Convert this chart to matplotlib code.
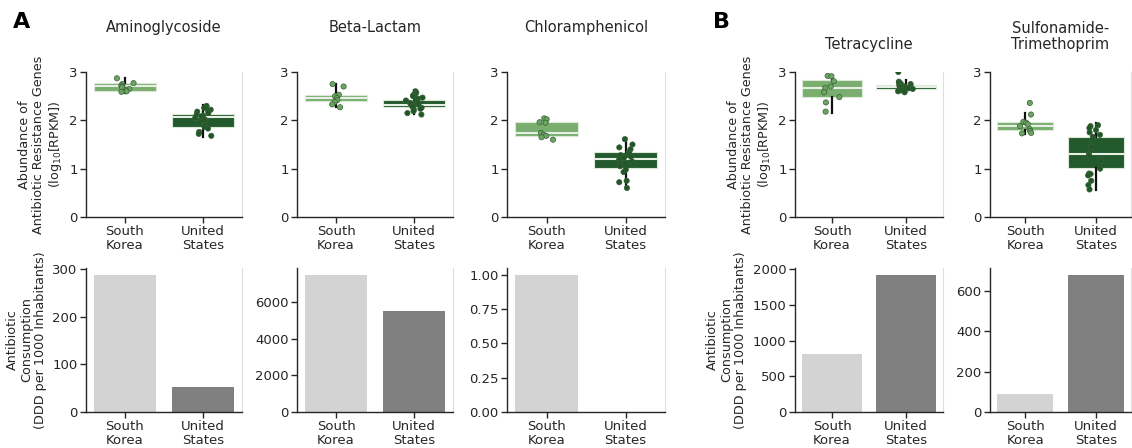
import matplotlib
matplotlib.use("Agg")
import matplotlib.pyplot as plt
import seaborn as sns

COUNTRIES = ["South\nKorea", "United\nStates"]
DRUG_CLASSES = ["Aminoglycoside", "Beta-Lactam", "Chloramphenicol", "Tetracycline", "Sulfonamide-\nTrimethoprim"]

# box summaries: (whislo, q1, median, q3, whishi)
BOX_KOREA = [
    (2.57, 2.61, 2.70, 2.77, 2.88),
    (2.27, 2.40, 2.47, 2.53, 2.75),
    (1.68, 1.68, 1.74, 1.96, 2.05),
    (2.16, 2.49, 2.67, 2.83, 2.94),
    (1.72, 1.80, 1.89, 1.97, 2.15),
]
BOX_US = [
    (1.66, 1.86, 2.07, 2.13, 2.32),
    (2.13, 2.28, 2.32, 2.43, 2.62),
    (0.59, 1.01, 1.21, 1.34, 1.63),
    (2.59, 2.65, 2.68, 2.73, 2.83),
    (0.56, 1.01, 1.30, 1.66, 1.94),
]

# per-sample log10 RPKM values
POINTS_KOREA = [
    [2.87, 2.77, 2.75, 2.72, 2.70, 2.68, 2.65, 2.62, 2.60, 2.59],
    [2.75, 2.70, 2.53, 2.50, 2.46, 2.42, 2.38, 2.33, 2.27],
    [2.04, 2.02, 1.96, 1.95, 1.74, 1.70, 1.68, 1.65, 1.60],
    [2.92, 2.91, 2.81, 2.70, 2.67, 2.58, 2.48, 2.37, 2.18],
    [2.36, 2.12, 1.97, 1.95, 1.92, 1.88, 1.82, 1.78, 1.74, 1.73],
]
POINTS_US = [
    [2.30, 2.26, 2.22, 2.20, 2.18, 2.15, 2.12, 2.10, 2.08, 2.05, 2.02, 2.00, 1.97, 1.94, 1.90, 1.86, 1.83, 1.76, 1.72, 1.68],
    [2.60, 2.57, 2.54, 2.52, 2.50, 2.47, 2.45, 2.43, 2.41, 2.40, 2.38, 2.36, 2.35, 2.33, 2.31, 2.30, 2.28, 2.26, 2.24, 2.22, 2.19, 2.15, 2.12],
    [1.61, 1.50, 1.44, 1.40, 1.35, 1.31, 1.28, 1.25, 1.22, 1.19, 1.15, 1.12, 1.09, 1.05, 0.98, 0.93, 0.75, 0.72, 0.60],
    [3.00, 2.80, 2.78, 2.76, 2.75, 2.73, 2.72, 2.71, 2.70, 2.69, 2.68, 2.67, 2.66, 2.65, 2.64, 2.63, 2.62, 2.60, 2.58],
    [1.90, 1.88, 1.84, 1.80, 1.75, 1.70, 1.66, 1.61, 1.48, 1.45, 1.30, 1.27, 1.20, 1.16, 1.00, 0.90, 0.89, 0.86, 0.75, 0.66, 0.57],
]

# DDD per 1000 inhabitants
CONSUMPTION_KOREA = [288, 7500, 1.0, 810, 90]
CONSUMPTION_US = [53, 5550, 0.0, 1921, 679]

BOTTOM_TICKS = [
    [0, 100, 200, 300],
    [0, 2000, 4000, 6000],
    [0, 0.25, 0.5, 0.75, 1.0],
    [0, 500, 1000, 1500, 2000],
    [0, 200, 400, 600],
]

BOX_COLORS = ["#79ae6f", "#235a2d"]
POINT_COLORS = ["#6ba562", "#1e5827"]
BAR_COLORS = ["#d3d3d3", "#808080"]
TEXT = "#262626"

W, H = 1132, 448
COLS_PX = [(86, 242), (297, 453), (507, 665), (795, 943), (990, 1131)]
TOP_ROW_PX = (72, 217)
BOTTOM_ROW_PX = (268, 412)

plt.rcParams["font.family"] = ["DejaVu Sans"]
plt.rcParams["text.color"] = TEXT
plt.rcParams["axes.labelcolor"] = TEXT
plt.rcParams["xtick.color"] = TEXT
plt.rcParams["ytick.color"] = TEXT


def make_axes(fig, col, row):
    x0, x1 = COLS_PX[col]
    y0, y1 = row
    return fig.add_axes([x0 / W, 1 - y1 / H, (x1 - x0) / W, (y1 - y0) / H])


def style(ax):
    ax.spines["top"].set_visible(False)
    ax.spines["right"].set_color("#dedede")
    ax.spines["right"].set_linewidth(0.8)
    for side in ("left", "bottom"):
        ax.spines[side].set_color(TEXT)
        ax.spines[side].set_linewidth(1.0)
    ax.tick_params(direction="out", length=4, width=1, labelsize=9.5, pad=2)
    ax.set_xlim(-0.5, 1.5)
    ax.set_xticks([0, 1])
    ax.set_xticklabels(COUNTRIES, fontsize=9.5, linespacing=1.05)


fig = plt.figure(figsize=(W / 100, H / 100), dpi=100)

for i, name in enumerate(DRUG_CLASSES):
    ax = make_axes(fig, i, TOP_ROW_PX)
    stats = []
    for box in (BOX_KOREA[i], BOX_US[i]):
        lo, q1, med, q3, hi = box
        stats.append(dict(whislo=lo, q1=q1, med=med, q3=q3, whishi=hi, fliers=[]))
    parts = ax.bxp(stats, positions=[0, 1], widths=0.8, patch_artist=True,
                   showcaps=False, showfliers=False,
                   whiskerprops=dict(color="#111111", linewidth=1.6),
                   medianprops=dict(color="#e8f0e6", linewidth=1.5),
                   boxprops=dict(linewidth=0.8))
    for patch, color in zip(parts["boxes"], BOX_COLORS):
        patch.set_facecolor(color)
        patch.set_edgecolor("#dce8d8")

    xs, ys = [], []
    for label, vals in zip(COUNTRIES, (POINTS_KOREA[i], POINTS_US[i])):
        xs += [label] * len(vals)
        ys += vals
    sns.stripplot(x=xs, y=ys, hue=xs, order=COUNTRIES, palette=dict(zip(COUNTRIES, POINT_COLORS)),
                  jitter=0.11, size=3.8, linewidth=0.5, edgecolor="#3b5f38",
                  legend=False, ax=ax, zorder=3)
    for coll in ax.collections:
        coll.set_clip_on(True)
        coll.set_clip_path(ax.patch)

    style(ax)
    ax.set_ylim(0, 3)
    ax.set_yticks([0, 1, 2, 3])
    pad = 29 if i < 3 else 16.5
    ax.set_title(name, fontsize=10.5, pad=pad, color=TEXT, linespacing=1.1)
    if i in (0, 3):
        ax.set_ylabel("Abundance of\nAntibiotic Resistance Genes\n(log$_{10}$[RPKM])", fontsize=9.2, linespacing=1.1)

    axb = make_axes(fig, i, BOTTOM_ROW_PX)
    axb.bar([0, 1], [CONSUMPTION_KOREA[i], CONSUMPTION_US[i]], width=0.8, color=BAR_COLORS)
    style(axb)
    axb.set_yticks(BOTTOM_TICKS[i])
    if i == 2:
        axb.set_yticklabels([f"{t:.2f}" for t in BOTTOM_TICKS[i]])
    if i in (0, 3):
        axb.set_ylabel("Antibiotic\nConsumption\n(DDD per 1000 Inhabitants)", fontsize=9.2, linespacing=1.1)

fig.text(13 / W, 1 - 28 / H, "A", fontsize=16, fontweight="bold", color="black")
fig.text(713 / W, 1 - 28 / H, "B", fontsize=16, fontweight="bold", color="black")

fig.savefig("out.png", dpi=100)
